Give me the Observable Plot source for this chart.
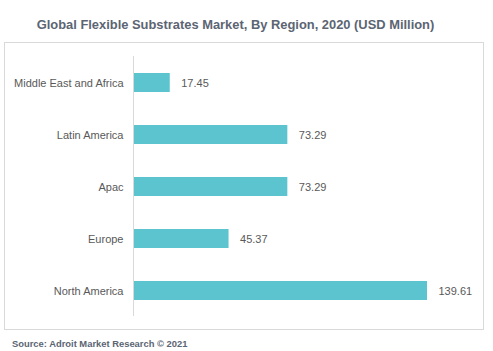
<!DOCTYPE html>
<html>
<head>
<meta charset="utf-8">
<script src="https://cdn.jsdelivr.net/npm/d3@7"></script>
<script src="https://cdn.jsdelivr.net/npm/@observablehq/plot@0.6"></script>
<style>
  html, body { margin: 0; padding: 0; background: #fff; }
  #wrap { position: relative; width: 493px; height: 351px; overflow: hidden; font-family: "Liberation Sans", Arial, sans-serif; }
  #title { position: absolute; left: 0; top: 17px; width: 471px; text-align: center; font-weight: bold; font-size: 12.9px; color: #5b6573; }
  #box { position: absolute; left: 4px; top: 42px; width: 478px; height: 286px; border: 1px solid #d9d9d9; }
  #chart { position: absolute; left: 5px; top: 43px; }
  #source { position: absolute; left: 12px; top: 338px; font-weight: bold; font-size: 9.4px; color: #5b6573; }
</style>
</head>
<body>
<div id="wrap">
  <div id="title">Global Flexible Substrates Market, By Region, 2020 (USD Million)</div>
  <div id="box"></div>
  <div id="chart"></div>
  <div id="source">Source: Adroit Market Research © 2021</div>
</div>
<script>
const regions = ["Middle East and Africa", "Latin America", "Apac", "Europe", "North America"];
const values = [17.45, 73.29, 73.29, 45.37, 139.61];
const data = regions.map((r, i) => ({region: r, value: values[i]}));

const chart = Plot.plot({
  width: 478,
  height: 285,
  marginTop: 13,
  marginBottom: 12,
  marginLeft: 128,
  marginRight: 56,
  style: {fontFamily: "Liberation Sans, Arial, sans-serif", fontSize: "11px", color: "#595959", background: "transparent"},
  x: {domain: [0, 139.61], axis: null},
  y: {domain: regions, paddingInner: 0.64, paddingOuter: 0.32, label: null},
  marks: [
    Plot.axisY({tickSize: 0, tickPadding: 10, fontSize: 11, fill: "#595959", label: null}),
    Plot.barX(data, {x: "value", y: "region", fill: "#5bc4ce"}),
    Plot.text(data, {x: "value", y: "region", text: d => d.value.toFixed(2), textAnchor: "start", dx: 11, fill: "#595959", fontSize: 11}),
    Plot.ruleX([0], {stroke: "#d9d9d9", strokeWidth: 1})
  ]
});
document.getElementById("chart").appendChild(chart);
</script>
</body>
</html>
